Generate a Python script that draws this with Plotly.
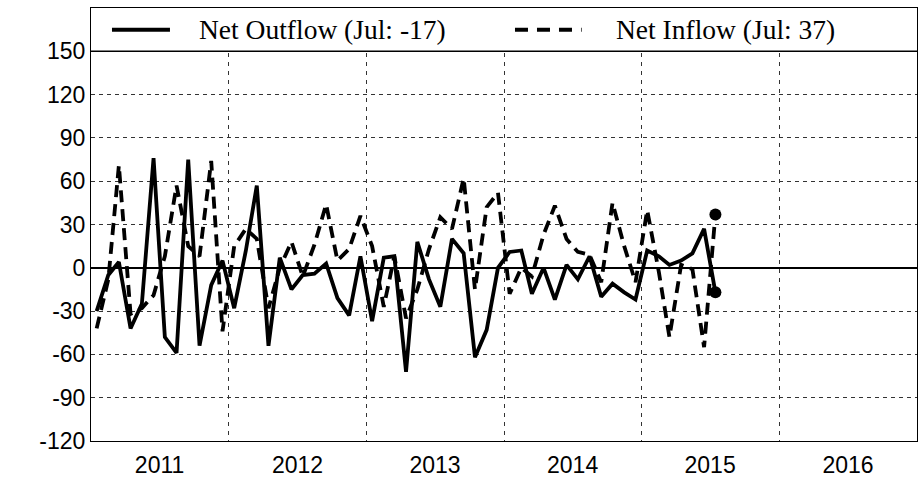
import pandas as pd
import plotly.graph_objects as go

# ---- data (monthly, Jan 2011 .. Jul 2015) ----
months = pd.date_range("2011-01-01", "2015-07-01", freq="MS")
outflow = [
    -30, -5, 4, -42, -25, 76, -48, -59, 75, -54, -12, 5,
    -28, 12, 57, -54, 7, -15, -5, -4, 3, -21, -33, 8,
    -37, 7, 8, -72, 18, -8, -27, 20, 10, -62, -43, 0,
    11, 12, -18, 0, -22, 2, -8, 8, -20, -11, -17, -22,
    12, 8, 2, 5, 10, 27, -17,
]
inflow = [
    -42, -8, 71, -32, -28, -19, 8, 57, 15, 8, 74, -44,
    15, 27, 20, -28, 0, 18, -6, 16, 44, 5, 13, 36,
    15, -27, 8, -35, -15, 13, 35, 27, 62, -15, 42, 52,
    -18, 0, -6, 23, 43, 20, 11, 9, -10, 45, 15, -10,
    40, -3, -48, 2, -1, -55, 37,
]
years = [2011, 2012, 2013, 2014, 2015, 2016]
y_ticks = [-120, -90, -60, -30, 0, 30, 60, 90, 120, 150]

# plot points in the middle of each month
x = months + pd.Timedelta(days=15)

fig = go.Figure()
fig.add_trace(go.Scatter(
    x=x, y=outflow, mode="lines",
    line=dict(color="black", width=3.8),
    name=f"Net Outflow (Jul: {outflow[-1]})", showlegend=False,
))
fig.add_trace(go.Scatter(
    x=x, y=inflow, mode="lines",
    line=dict(color="black", width=3.8, dash="12px,7px"),
    name=f"Net Inflow (Jul: {inflow[-1]})", showlegend=False,
))
fig.add_trace(go.Scatter(
    x=[x[-1], x[-1]], y=[outflow[-1], inflow[-1]], mode="markers",
    marker=dict(color="black", size=12), showlegend=False, hoverinfo="skip",
))

year_mid = [pd.Timestamp(f"{yr}-07-02") for yr in years]
year_start = [pd.Timestamp(f"{yr}-01-01") for yr in years[1:]]

tick_font = dict(family="Liberation Sans, Arial, sans-serif", size=23, color="black")

fig.update_xaxes(
    range=[pd.Timestamp("2011-01-01"), pd.Timestamp("2017-01-01")],
    tickmode="array", tickvals=year_mid, ticktext=[str(v) for v in years],
    showgrid=False, ticks="", ticklabelstandoff=3, automargin=False,
    minor=dict(tickmode="array", tickvals=year_start, showgrid=True,
               gridcolor="#333", griddash="4px,5px", gridwidth=1, ticks=""),
    showline=True, linecolor="black", linewidth=1, mirror=True,
    tickfont=tick_font, zeroline=False,
)
fig.update_yaxes(
    range=[-120, 180], automargin=False,
    tickmode="array", tickvals=y_ticks, ticktext=[str(v) for v in y_ticks],
    showgrid=True, gridcolor="#333", griddash="4px,4px", gridwidth=1,
    zeroline=True, zerolinecolor="black", zerolinewidth=2,
    showline=True, linecolor="black", linewidth=1, mirror=True,
    ticks="", ticklen=0, tickfont=tick_font,
)

# legend box across top of plot area
legend_font = dict(family="Liberation Serif, Times New Roman, serif", size=27.5, color="black")
fig.add_shape(type="rect", xref="paper", yref="y", x0=0, x1=1, y0=150, y1=180,
              fillcolor="white", line=dict(width=0), layer="above")
fig.add_shape(type="line", xref="paper", yref="y", x0=0, x1=1, y0=150, y1=150,
              line=dict(color="black", width=1.5), layer="above")
fig.add_shape(type="line", xref="paper", yref="y", x0=0.0254, x1=0.0956, y0=165, y1=165,
              line=dict(color="black", width=4), layer="above")
fig.add_shape(type="line", xref="paper", yref="y", x0=0.5133, x1=0.594, y0=165, y1=165,
              line=dict(color="black", width=4, dash="13px,9px"), layer="above")
fig.add_annotation(xref="paper", yref="y", x=0.1283, y=165, xanchor="left", yanchor="middle",
                   text=f"Net Outflow (Jul: {outflow[-1]})", showarrow=False, font=legend_font)
fig.add_annotation(xref="paper", yref="y", x=0.633, y=165, xanchor="left", yanchor="middle",
                   text=f"Net Inflow (Jul: {inflow[-1]})", showarrow=False, font=legend_font)

fig.update_layout(
    width=922, height=477,
    margin=dict(l=91, r=5, t=8, b=36),
    paper_bgcolor="white", plot_bgcolor="white",
    showlegend=False,
)
fig.write_html(
    "out.html",
    config={"displayModeBar": False},
    post_script="document.body.style.margin='0';"
                "document.body.style.overflow='hidden';"
                "document.documentElement.style.overflow='hidden';",
)
